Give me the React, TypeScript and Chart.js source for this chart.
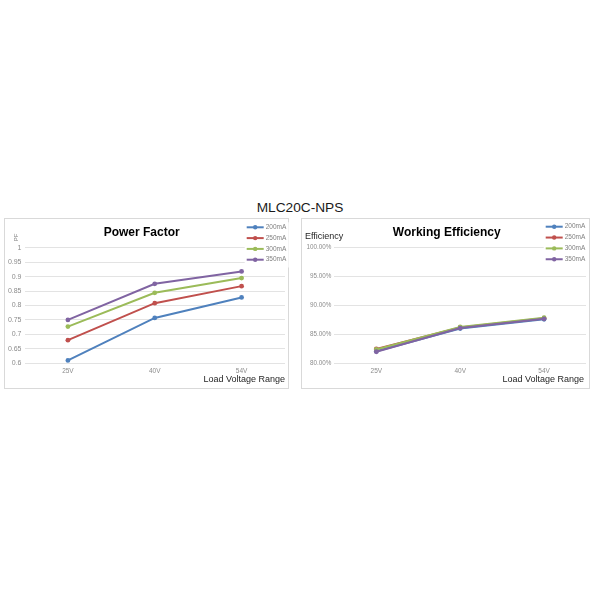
import React, { useEffect, useRef } from "react";
import { Chart, registerables } from "chart.js";
Chart.register(...registerables);

const pageTitle = "MLC20C-NPS";
const categories = ["25V", "40V", "54V"];
const seriesLabels = ["200mA", "250mA", "300mA", "350mA"];
const seriesColors = ["#4f81bd", "#c0504d", "#9bbb59", "#8064a2"];

const pf200 = [0.61, 0.757, 0.828];
const pf250 = [0.68, 0.808, 0.867];
const pf300 = [0.727, 0.844, 0.895];
const pf350 = [0.75, 0.875, 0.918];

const eff200 = [82.1, 86.0, 87.6];
const eff250 = [82.5, 86.2, 87.8];
const eff300 = [82.4, 86.3, 87.9];
const eff350 = [82.0, 86.1, 87.7];

const FONT = "'Liberation Sans', Arial, sans-serif";

type Decor = {
  title: string;
  titleX: number;
  titleY: number;
  yTitle: string;
  yTitleX: number;
  yTitleY: number;
  yTitleRotated: boolean;
  yTitleSize: number;
  legendX: number;
  legendY: number;
  legendStep: number;
  xTitle: string;
  xTitleX: number;
  xTitleY: number;
};

function decorPlugin(d: Decor) {
  return {
    id: "decor",
    beforeDraw(chart: any) {
      const ctx = chart.ctx;
      ctx.save();
      ctx.fillStyle = "#ffffff";
      ctx.fillRect(0, 0, chart.width, chart.height);
      ctx.strokeStyle = "#d9d9d9";
      ctx.lineWidth = 1;
      ctx.strokeRect(0.5, 0.5, chart.width - 1, chart.height - 1);
      ctx.restore();
    },
    afterDraw(chart: any) {
      const ctx = chart.ctx;
      ctx.save();
      ctx.fillStyle = "#000000";
      ctx.font = `bold 12px ${FONT}`;
      ctx.textAlign = "center";
      ctx.textBaseline = "middle";
      ctx.fillText(d.title, d.titleX, d.titleY);
      ctx.fillStyle = "#262626";
      ctx.font = `${d.yTitleSize}px ${FONT}`;
      if (d.yTitleRotated) {
        ctx.save();
        ctx.translate(d.yTitleX, d.yTitleY);
        ctx.rotate(-Math.PI / 2);
        ctx.textAlign = "center";
        ctx.fillStyle = "#808080";
        ctx.fillText(d.yTitle, 0, 0);
        ctx.restore();
      } else {
        ctx.textAlign = "left";
        ctx.fillText(d.yTitle, d.yTitleX, d.yTitleY);
      }
      ctx.fillStyle = "#262626";
      ctx.font = `9px ${FONT}`;
      ctx.textAlign = "right";
      ctx.fillText(d.xTitle, d.xTitleX, d.xTitleY);
      const ds = chart.data.datasets;
      ctx.fillStyle = "#ffffff";
      ctx.fillRect(d.legendX - 2, d.legendY - 5, 44, d.legendStep * ds.length + 2);
      ds.forEach((s: any, i: number) => {
        const y = d.legendY + i * d.legendStep;
        ctx.strokeStyle = s.borderColor;
        ctx.lineWidth = 2;
        ctx.beginPath();
        ctx.moveTo(d.legendX, y);
        ctx.lineTo(d.legendX + 17, y);
        ctx.stroke();
        ctx.fillStyle = s.borderColor;
        ctx.beginPath();
        ctx.arc(d.legendX + 8.5, y, 2.2, 0, Math.PI * 2);
        ctx.fill();
        ctx.fillStyle = "#7f7f7f";
        ctx.font = `6.5px ${FONT}`;
        ctx.textAlign = "left";
        ctx.fillText(s.label, d.legendX + 19, y);
      });
      ctx.restore();
    },
  };
}

function makeDatasets(series: number[][]) {
  return series.map((values, i) => ({
    label: seriesLabels[i],
    data: values,
    borderColor: seriesColors[i],
    backgroundColor: seriesColors[i],
    pointBackgroundColor: seriesColors[i],
    pointBorderColor: seriesColors[i],
    pointBorderWidth: 0,
    borderWidth: 2,
    pointRadius: 2.4,
    tension: 0,
    order: series.length - i,
  }));
}

type PanelProps = {
  left: number;
  top: number;
  width: number;
  height: number;
  series: number[][];
  yMin: number;
  yMax: number;
  yStep: number;
  yFormat: (v: number) => string;
  yAxisWidth: number;
  xAxisHeight: number;
  padTop: number;
  padRight: number;
  tickSize: number;
  decor: Decor;
};

function Panel(p: PanelProps) {
  const ref = useRef<HTMLCanvasElement | null>(null);
  useEffect(() => {
    if (!ref.current) return;
    const chart = new Chart(ref.current, {
      type: "line",
      data: { labels: categories, datasets: makeDatasets(p.series) as any },
      options: {
        responsive: false,
        animation: false,
        devicePixelRatio: 1,
        layout: { padding: { top: p.padTop, right: p.padRight, left: 0, bottom: 0 } },
        plugins: { legend: { display: false }, tooltip: { enabled: false }, title: { display: false } },
        scales: {
          x: {
            type: "category",
            offset: true,
            grid: { display: false, drawTicks: false },
            border: { display: false },
            ticks: { color: "#8c8c8c", font: { size: 6.5, family: FONT }, padding: 4 },
            afterFit: (s: any) => {
              s.height = p.xAxisHeight;
            },
          },
          y: {
            min: p.yMin,
            max: p.yMax,
            grid: { color: "#e3e3e3", lineWidth: 1, drawTicks: false },
            border: { display: false },
            ticks: {
              stepSize: p.yStep,
              color: "#8c8c8c",
              font: { size: p.tickSize, family: FONT },
              padding: 3,
              callback: (v: any) => p.yFormat(Number(v)),
            },
            afterFit: (s: any) => {
              s.width = p.yAxisWidth;
            },
          },
        },
      },
      plugins: [decorPlugin(p.decor)],
    });
    return () => chart.destroy();
  }, []);
  return (
    <canvas
      ref={ref}
      width={p.width}
      height={p.height}
      style={{ position: "absolute", left: p.left, top: p.top, width: p.width, height: p.height }}
    />
  );
}

export default function App() {
  return (
    <div style={{ position: "absolute", left: 0, top: 0, width: 600, height: 600, background: "#ffffff" }}>
      <div
        style={{
          position: "absolute",
          left: 0,
          top: 201,
          width: 600,
          textAlign: "center",
          fontFamily: FONT,
          fontSize: 13.7,
          lineHeight: "14px",
          color: "#1a1a1a",
        }}
      >
        {pageTitle}
      </div>
      <Panel
        left={4}
        top={218}
        width={285}
        height={171}
        series={[pf200, pf250, pf300, pf350]}
        yMin={0.6}
        yMax={1}
        yStep={0.05}
        yFormat={(v) => String(Number(v.toFixed(2)))}
        yAxisWidth={20.5}
        xAxisHeight={25.7}
        padTop={29.7}
        padRight={2}
        tickSize={7}
        decor={{
          title: "Power Factor",
          titleX: 137.7,
          titleY: 14.3,
          yTitle: "PF",
          yTitleX: 12.7,
          yTitleY: 19.5,
          yTitleRotated: true,
          yTitleSize: 6,
          legendX: 242.7,
          legendY: 9.3,
          legendStep: 10.8,
          xTitle: "Load Voltage Range",
          xTitleX: 281,
          xTitleY: 162,
        }}
      />
      <Panel
        left={301}
        top={218}
        width={289}
        height={171}
        series={[eff200, eff250, eff300, eff350]}
        yMin={80}
        yMax={100}
        yStep={5}
        yFormat={(v) => v.toFixed(2) + "%"}
        yAxisWidth={33.4}
        xAxisHeight={25.7}
        padTop={29.7}
        padRight={0.5}
        tickSize={6.3}
        decor={{
          title: "Working Efficiency",
          titleX: 145.7,
          titleY: 14.3,
          yTitle: "Efficiency",
          yTitleX: 4,
          yTitleY: 18.7,
          yTitleRotated: false,
          yTitleSize: 9,
          legendX: 244.7,
          legendY: 8.7,
          legendStep: 10.85,
          xTitle: "Load Voltage Range",
          xTitleX: 283,
          xTitleY: 162,
        }}
      />
    </div>
  );
}
